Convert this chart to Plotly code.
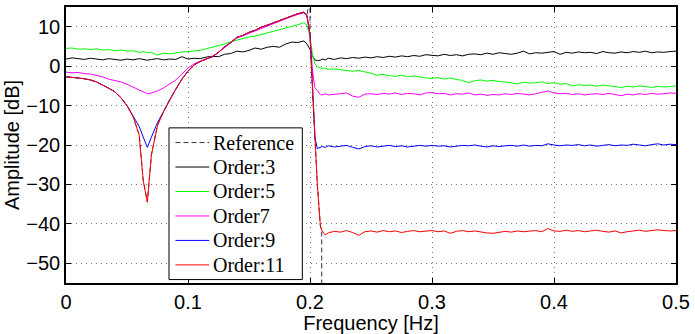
import plotly.graph_objects as go

# Frequency grid [Hz] (denser around the notch and the cutoff edge)
freq = [0.0, 0.005, 0.01, 0.015, 0.02, 0.025, 0.03, 0.035, 0.04, 0.045, 0.05, 0.055, 0.06,
        0.0633, 0.0667, 0.07,
        0.075, 0.08, 0.085, 0.09, 0.095, 0.1, 0.105, 0.11, 0.115, 0.12, 0.125, 0.13, 0.135,
        0.14, 0.145, 0.15, 0.155, 0.16, 0.165, 0.17, 0.175, 0.18, 0.185, 0.19, 0.195,
        0.1975, 0.2, 0.202, 0.204, 0.206, 0.2085, 0.21, 0.2125, 0.215,
        0.22, 0.225, 0.23, 0.235, 0.24, 0.245, 0.25, 0.255, 0.26, 0.265,
        0.27, 0.275, 0.28, 0.285, 0.29, 0.295, 0.3, 0.305, 0.31, 0.315,
        0.32, 0.325, 0.33, 0.335, 0.34, 0.345, 0.35, 0.355, 0.36, 0.365,
        0.37, 0.375, 0.38, 0.385, 0.39, 0.395, 0.4, 0.405, 0.41, 0.415,
        0.42, 0.425, 0.43, 0.435, 0.44, 0.445, 0.45, 0.455, 0.46, 0.465,
        0.47, 0.475, 0.48, 0.485, 0.49, 0.495, 0.5]

# Amplitude responses [dB]
order3 = [1.8, 2.1, 1.9, 1.7, 2.0, 1.8, 1.6, 1.9, 1.7, 1.5, 1.8, 1.6, 1.9,
          1.7, 1.5, 1.7,
          1.9, 1.6, 1.8, 1.7, 2.4, 1.8, 2.0, 1.9, 2.3, 2.5, 2.4, 3.0, 3.2, 3.8, 3.6, 4.0,
          4.6, 4.3, 4.8, 5.0, 4.8, 5.6, 6.1, 6.0, 6.4,
          5.6, 4.3, 2.6, 1.6, 1.4, 1.5, 1.8, 1.6, 2.0,
          1.7, 2.1, 1.9, 2.2, 2.0, 2.3, 2.1, 2.4, 2.2, 2.5,
          2.3, 2.6, 2.4, 2.7, 2.5, 2.9, 2.8, 2.6, 3.0, 2.7,
          2.9, 2.6, 3.0, 3.1, 2.9, 3.3, 3.0, 3.4, 3.2, 3.0,
          3.3, 3.8, 3.1, 3.4, 3.3, 3.5, 3.7, 3.0, 3.5, 3.3,
          3.6, 3.4, 3.5, 3.2, 3.7, 3.4, 3.3, 3.6, 3.4, 3.7,
          3.5, 3.8, 3.4, 3.6, 3.5, 3.7, 3.8]

order5 = [4.5, 4.6, 4.3, 4.4, 4.2, 4.4, 4.1, 4.2, 3.9, 4.1, 3.8, 3.9, 3.5,
          3.7, 3.4, 3.5,
          2.8, 3.3, 3.1, 3.4, 3.6, 3.7, 3.8, 4.0, 4.4, 4.8, 5.3, 5.6, 6.2, 6.6, 7.1, 7.4,
          7.6, 8.0, 8.4, 8.8, 9.3, 9.6, 10.1, 10.5, 11.0,
          10.4, 7.5, 3.0, 0.6, -0.2, -0.4, -0.6, -0.5, -0.8,
          -0.7, -0.9, -1.0, -1.3, -1.1, -1.4, -1.8, -2.3, -2.1, -2.4,
          -2.6, -2.3, -2.7, -2.5, -2.8, -3.0, -3.1, -2.9, -3.3, -3.0,
          -3.4, -3.6, -4.2, -3.7, -3.5, -3.8, -3.6, -3.9, -4.0, -4.2,
          -4.5, -4.1, -4.3, -4.2, -4.0, -4.4, -4.2, -4.6, -4.4, -5.0,
          -4.7, -4.9, -4.8, -5.1, -4.8, -5.0, -5.2, -5.4, -5.1, -5.3,
          -5.0, -5.2, -5.4, -5.1, -5.3, -5.2, -5.0]

order7 = [-1.5, -1.7, -1.6, -1.9, -2.0, -2.4, -2.7, -3.3, -3.6, -4.0, -4.6, -5.3, -6.2,
          -6.6, -7.0, -6.8,
          -6.3, -5.5, -4.6, -3.5, -2.0, -0.5, 0.6, 1.3, 1.9, 2.5, 3.5, 4.8, 5.9, 7.1, 7.7, 8.5,
          9.0, 9.7, 10.3, 10.9, 11.4, 12.0, 12.6, 13.1, 13.5,
          12.7, 8.0, -1.0, -5.5, -6.2, -7.2, -7.3, -7.0, -7.3,
          -7.2, -7.0, -6.8, -7.6, -7.9, -7.1, -7.0, -7.2, -6.9, -7.1,
          -6.8, -7.2, -6.9, -7.0, -7.3, -6.8, -6.7, -7.0, -6.9, -7.3,
          -7.0, -7.1, -6.8, -7.3, -7.1, -7.4, -7.2, -7.3, -7.0, -7.2,
          -6.9, -7.1, -7.3, -7.0, -6.7, -6.3, -6.8, -7.0, -6.9, -7.2,
          -7.0, -7.3, -7.1, -7.0, -7.2, -6.9, -7.2, -7.5, -7.1, -7.3,
          -7.0, -7.2, -6.9, -7.1, -7.0, -6.8, -6.9]

order9 = [-2.7, -2.8, -3.0, -3.2, -3.5, -4.0, -4.7, -5.6, -6.5, -8.0, -10.0, -12.5, -15.3,
          -18.0, -20.6, -18.0,
          -14.3, -11.5, -8.5, -5.8, -3.3, -1.3, 0.3, 1.2, 1.8, 2.4, 3.5, 4.9, 6.0, 7.3, 7.8, 8.6,
          9.1, 9.9, 10.4, 11.0, 11.6, 12.2, 12.8, 13.3, 13.7,
          12.8, 8.0, -6.0, -18.0, -20.9, -20.7, -20.4, -20.6, -20.2,
          -20.5, -20.3, -20.1, -20.6, -21.0, -20.4, -20.2, -20.5, -20.3, -20.1,
          -20.4, -20.2, -20.5, -20.3, -20.1, -20.3, -20.1, -20.3, -20.2, -20.5,
          -20.3, -20.1, -20.2, -20.0, -20.3, -20.5, -20.2, -20.4, -20.2, -20.1,
          -20.3, -20.0, -20.3, -20.1, -20.2, -19.7, -20.0, -20.2, -20.0, -20.1,
          -19.9, -20.2, -20.0, -20.3, -20.1, -19.9, -20.2, -20.0, -20.1, -19.8,
          -20.0, -20.2, -19.9, -19.7, -20.0, -19.8, -19.9]

order11 = [-2.7, -2.8, -3.0, -3.2, -3.5, -4.0, -4.7, -5.6, -6.5, -8.0, -10.0, -12.8, -17.5,
           -29.0, -34.5, -22.5,
           -15.0, -11.5, -8.5, -5.8, -3.3, -1.3, 0.3, 1.2, 1.8, 2.4, 3.5, 4.9, 6.0, 7.3, 7.8, 8.6,
           9.1, 9.9, 10.4, 11.0, 11.6, 12.2, 12.8, 13.3, 13.7,
           12.8, 8.0, -6.0, -18.0, -30.0, -40.5, -41.8, -42.8, -42.3,
           -41.9, -42.1, -41.7, -42.2, -42.9, -42.0, -41.8, -42.1, -41.7, -42.0,
           -41.8, -42.2, -41.9, -41.7, -42.0, -41.8, -41.7, -42.0, -41.8, -42.4,
           -41.9, -41.7, -42.0, -41.8, -42.1, -42.3, -42.4, -42.1, -41.9, -42.1,
           -41.8, -42.0, -41.9, -41.7, -42.0, -41.2, -41.8, -41.9, -41.6, -41.9,
           -41.7, -42.0, -41.8, -41.6, -41.9, -42.1, -41.8, -42.3, -42.0, -41.8,
           -41.6, -41.9, -41.7, -41.5, -41.7, -41.8, -41.7]

# Desired response: passband/notch shape, then the ideal cutoff edge
ref_edge_freq = [0.2, 0.2, 0.202, 0.204, 0.206, 0.2085, 0.2096, 0.2096]
ref_edge_db = [18.0, 8.0, -6.0, -18.0, -30.0, -40.5, -42.0, -80.0]
ref_freq = freq[:42] + ref_edge_freq
ref_db = order11[:42] + ref_edge_db

for s in (order3, order5, order7, order9, order11):
    assert len(s) == len(freq)

x_ticks = [0, 0.1, 0.2, 0.3, 0.4, 0.5]
x_ticktext = ["0", "0.1", "0.2", "0.3", "0.4", "0.5"]
y_ticks = [-50, -40, -30, -20, -10, 0, 10]
y_ticktext = ["\u221250", "\u221240", "\u221230", "\u221220", "\u221210", "0", "10"]

REF_STYLE = dict(color="#333333", width=1, dash="5px,3px")
series = [
    ("Order:3", order3, "#000000"),
    ("Order:5", order5, "#00ff00"),
    ("Order7", order7, "#ff00ff"),
    ("Order:9", order9, "#0000ff"),
    ("Order:11", order11, "#ff0000"),
]

# Figure geometry (pixels)
W, H = 695, 334
ML, MR, MT, MB = 66, 16, 5, 47
PW, PH = W - ML - MR, H - MT - MB

fig = go.Figure()
fig.add_trace(go.Scatter(x=ref_freq, y=ref_db, mode="lines", name="Reference",
                         line=REF_STYLE, showlegend=False))
for name, vals, color in series:
    fig.add_trace(go.Scatter(x=freq, y=vals, mode="lines", name=name,
                             line=dict(color=color, width=1), showlegend=False))

# Boxed legend with compact rows
def px_x(px):
    return (px - ML) / PW

def px_y(py):
    return (H - MB - py) / PH

LEG_LEFT, LEG_RIGHT, LEG_TOP, LEG_BOTTOM = 169.5, 303.5, 128.5, 283.5
ROW0, ROW_STEP = 143.5, 25
SAMPLE_X0, SAMPLE_X1, TEXT_X = 176, 210, 212

shapes = [dict(type="rect", xref="paper", yref="paper",
               x0=px_x(LEG_LEFT), x1=px_x(LEG_RIGHT), y0=px_y(LEG_BOTTOM), y1=px_y(LEG_TOP),
               fillcolor="white", line=dict(color="black", width=1), layer="above")]
annotations = []
entries = [("Reference", REF_STYLE)] + [(n, dict(color=c, width=1)) for n, _, c in series]
for i, (label, style) in enumerate(entries):
    yc = ROW0 + i * ROW_STEP
    shapes.append(dict(type="line", xref="paper", yref="paper",
                       x0=px_x(SAMPLE_X0), x1=px_x(SAMPLE_X1), y0=px_y(yc), y1=px_y(yc),
                       line=style, layer="above"))
    annotations.append(dict(xref="paper", yref="paper", x=px_x(TEXT_X), y=px_y(yc),
                            xanchor="left", yanchor="middle", showarrow=False, text=label,
                            font=dict(family="Liberation Serif, Times New Roman, serif",
                                      size=20, color="black")))

SANS = "Liberation Sans, Arial, sans-serif"
axis_common = dict(
    showline=True, linecolor="black", linewidth=1.5, mirror="ticks",
    ticks="inside", ticklen=5, tickcolor="black", tickwidth=1,
    showgrid=True, gridcolor="#777777", griddash="1px,4px", gridwidth=1,
    zeroline=False,
    tickfont=dict(family=SANS, size=20, color="black"),
)

fig.update_layout(
    width=W, height=H,
    margin=dict(l=ML, r=MR, t=MT, b=MB),
    paper_bgcolor="white", plot_bgcolor="white",
    xaxis=dict(range=[0, 0.5], tickvals=x_ticks, ticktext=x_ticktext,
               title=dict(text="Frequency [Hz]", standoff=2,
                          font=dict(family=SANS, size=20, color="black")),
               **axis_common),
    yaxis=dict(range=[-55, 15], tickvals=y_ticks, ticktext=y_ticktext,
               title=dict(text="Amplitude [dB]", standoff=1,
                          font=dict(family=SANS, size=20, color="black")),
               **axis_common),
    shapes=shapes,
    annotations=annotations,
    showlegend=False,
)

fig.write_html("out.html")
